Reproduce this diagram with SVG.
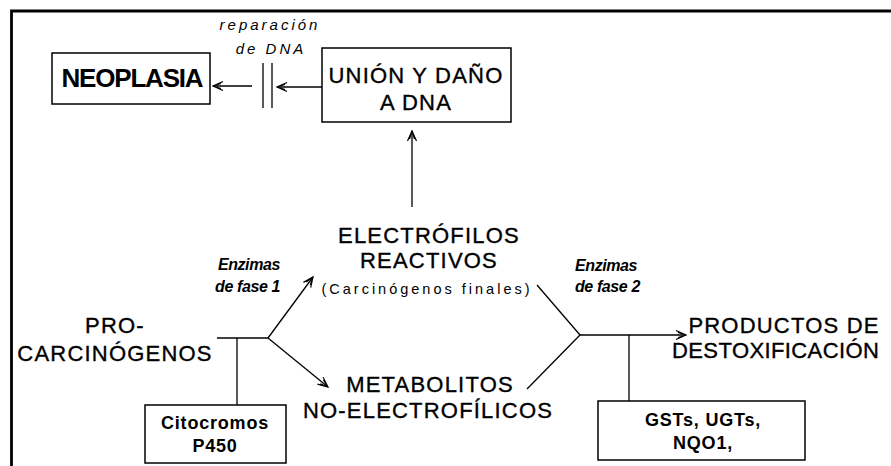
<svg xmlns="http://www.w3.org/2000/svg" width="891" height="466" viewBox="0 0 891 466">
<style>
  .box { fill: #fff; stroke: #000; stroke-width: 1.5; }
  .main { font-family: "Liberation Sans", Arial, sans-serif; font-size: 22px; letter-spacing: 1.2px; fill: #000; stroke: #000; stroke-width: 0.35; text-anchor: middle; }
  .boxb { font-family: "Liberation Sans", Arial, sans-serif; font-size: 18px; font-weight: bold; letter-spacing: 0.8px; fill: #000; text-anchor: middle; }
  .enz { font-family: "Liberation Sans", Arial, sans-serif; font-size: 16px; font-weight: bold; font-style: italic; letter-spacing: -0.4px; fill: #000; }
  .rep { font-family: "Liberation Sans", Arial, sans-serif; font-size: 15px; font-style: italic; letter-spacing: 3px; fill: #000; text-anchor: middle; }
  .small { font-family: "Liberation Sans", Arial, sans-serif; font-size: 14.5px; letter-spacing: 3px; fill: #000; text-anchor: middle; }
  .conn line, .conn path { stroke: #000; stroke-width: 1.3; fill: none; }
</style>
<defs>
  <marker id="arr" markerUnits="userSpaceOnUse" markerWidth="14" markerHeight="12" refX="11" refY="6" orient="auto">
    <path d="M1,1.5 L11,6 L1,10.5 M3,3.5 L11,6 M3,8.5 L11,6" fill="none" stroke="#000" stroke-width="1.2"/>
  </marker>
</defs>
<rect width="891" height="466" fill="#fff"/>
<path d="M11.5,466 V11 H891" fill="none" stroke="#000" stroke-width="2.8"/>

<g class="conn" id="connectors">
  <line x1="252" y1="86" x2="213" y2="86" marker-end="url(#arr)"/>
  <line x1="322" y1="87" x2="277" y2="87" marker-end="url(#arr)"/>
  <line x1="263" y1="63" x2="263" y2="108"/>
  <line x1="272" y1="63" x2="272" y2="108"/>
  <line x1="412" y1="207" x2="412" y2="131" marker-end="url(#arr)"/>
  <line x1="217" y1="338" x2="268" y2="338"/>
  <line x1="237" y1="338" x2="237" y2="405"/>
  <line x1="268" y1="338" x2="313" y2="277" marker-end="url(#arr)"/>
  <line x1="268" y1="338" x2="328" y2="387" marker-end="url(#arr)"/>
  <line x1="537" y1="285" x2="580" y2="335"/>
  <line x1="527" y1="389" x2="580" y2="335"/>
  <line x1="580" y1="335" x2="686" y2="335" marker-end="url(#arr)"/>
  <line x1="629" y1="335" x2="629" y2="401"/>
</g>

<g id="neoplasia">
  <rect class="box" x="52" y="53" width="158" height="51"/>
  <text x="132" y="87" font-family="Liberation Sans, Arial, sans-serif" font-size="26" font-weight="bold" letter-spacing="-1.2" text-anchor="middle">NEOPLASIA</text>
</g>

<g id="reparacion">
  <text class="rep" x="270" y="30">reparación</text>
  <text class="rep" x="271" y="54">de DNA</text>
</g>

<g id="union">
  <rect class="box" x="322" y="48" width="189" height="74"/>
  <text class="main" x="416" y="83">UNIÓN Y DAÑO</text>
  <text class="main" x="416" y="110">A DNA</text>
</g>

<g id="electrofilos">
  <text class="main" x="429" y="243">ELECTRÓFILOS</text>
  <text class="main" x="429" y="268">REACTIVOS</text>
  <text class="small" x="427" y="294">(Carcinógenos finales)</text>
</g>

<g id="enzimas1">
  <text class="enz" x="280" y="270" text-anchor="end">Enzimas</text>
  <text class="enz" x="280" y="292" text-anchor="end">de fase 1</text>
</g>

<g id="enzimas2">
  <text class="enz" x="575" y="271">Enzimas</text>
  <text class="enz" x="575" y="292">de fase 2</text>
</g>

<g id="procarcinogenos">
  <text class="main" x="115" y="333">PRO-</text>
  <text class="main" x="115" y="361">CARCINÓGENOS</text>
</g>

<g id="metabolitos">
  <text class="main" x="430" y="392" letter-spacing="1.8">METABOLITOS</text>
  <text class="main" x="428" y="418" letter-spacing="1.5">NO-ELECTROFÍLICOS</text>
</g>

<g id="productos">
  <text class="main" x="784" y="333">PRODUCTOS DE</text>
  <text class="main" x="672" y="358" style="text-anchor:start;letter-spacing:0.4px">DESTOXIFICACIÓN</text>
</g>

<g id="citocromos">
  <rect class="box" x="145" y="405" width="141" height="58"/>
  <text class="boxb" x="215" y="429">Citocromos</text>
  <text class="boxb" x="215" y="452">P450</text>
</g>

<g id="gsts">
  <rect class="box" x="598" y="401" width="207" height="59"/>
  <text class="boxb" x="703" y="426">GSTs, UGTs,</text>
  <text class="boxb" x="703" y="449">NQO1,</text>
</g>
</svg>
